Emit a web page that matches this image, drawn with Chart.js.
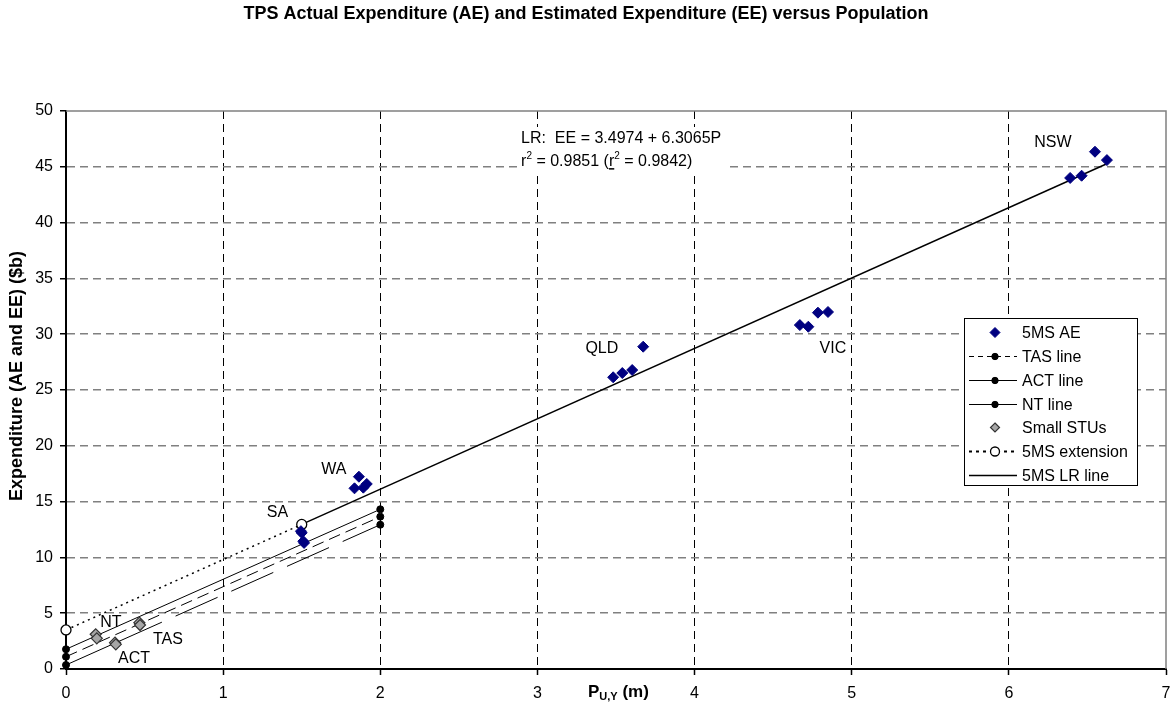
<!DOCTYPE html>
<html><head><meta charset="utf-8">
<script src="https://cdn.jsdelivr.net/npm/chart.js@4/dist/chart.umd.min.js"></script>
<style>html,body{margin:0;padding:0;background:#fff}#wrap{width:1173px;height:704px;position:relative}</style>
</head><body><div id="wrap"><canvas id="c" width="1173" height="704"></canvas></div>
<script>
// ---- data ----
const aeX = [6.39, 6.463, 6.548, 6.624, 4.67, 4.724, 4.785, 4.849, 3.482, 3.54, 3.603, 3.673, 1.836, 1.864, 1.892, 1.914, 1.495, 1.50, 1.51, 1.515];
const aeY = [44.0, 44.2, 46.35, 45.6, 30.82, 30.67, 31.93, 31.99, 26.14, 26.52, 26.79, 28.88, 16.19, 17.23, 16.25, 16.58, 12.35, 12.2, 11.45, 11.3];
const stuX = [0.189, 0.196, 0.312, 0.317, 0.467, 0.471];
const stuY = [3.11, 2.75, 2.36, 2.21, 4.15, 3.94];
const stuLineX = [0, 2];
const tasLineY = [1.10, 13.65];
const actLineY = [0.36, 12.93];
const ntLineY = [1.77, 14.31];
const extX = [0, 1.5];
const extY = [3.4974, 12.957];
const lrX = [1.5, 6.62];
const lrY = [12.957, 45.247];
const xTicks = [0, 1, 2, 3, 4, 5, 6, 7];
const yTicks = [0, 5, 10, 15, 20, 25, 30, 35, 40, 45, 50];
const stateNames = ['NSW', 'QLD', 'VIC', 'WA', 'SA', 'NT', 'TAS', 'ACT'];
const stateLabelX = [6.28, 3.41, 4.88, 1.705, 1.346, 0.286, 0.649, 0.433];
const stateLabelY = [47.2, 28.7, 28.7, 17.9, 14.0, 4.2, 2.65, 0.9];
const titleText = 'TPS Actual Expenditure (AE) and Estimated Expenditure (EE) versus Population';
const yTitleText = 'Expenditure (AE and EE) ($b)';
const eqLine1 = 'LR:  EE = 3.4974 + 6.3065P';
const r2Value = '0.9851';
const r2AdjValue = '0.9842';

// ---- chart ----
const FONT = '"Liberation Sans", Arial, Helvetica, sans-serif';
function pts(xs, ys) { return xs.map((x, i) => ({ x: x, y: ys[i] })); }

const datasets = [
  { label: '5MS AE', data: pts(aeX, aeY), showLine: false, pointStyle: 'rectRot', pointRadius: 5.5,
    pointBackgroundColor: '#000080', pointBorderColor: '#000080', pointBorderWidth: 1, order: 1, clip: false },
  { label: 'TAS line', data: pts(stuLineX, tasLineY), showLine: true, borderColor: '#000', borderWidth: 1,
    borderDash: [12, 6], pointRadius: 3.5, pointBackgroundColor: '#000', pointBorderColor: '#000', order: 5, clip: false },
  { label: 'ACT line', data: pts(stuLineX, actLineY), showLine: true, borderColor: '#000', borderWidth: 1,
    borderDash: [105, 15, 46, 15, 46, 15, 46, 15, 80], pointRadius: 3.5, pointBackgroundColor: '#000', pointBorderColor: '#000', order: 5, clip: false },
  { label: 'NT line', data: pts(stuLineX, ntLineY), showLine: true, borderColor: '#000', borderWidth: 1,
    pointRadius: 3.5, pointBackgroundColor: '#000', pointBorderColor: '#000', order: 5, clip: false },
  { label: 'Small STUs', data: pts(stuX, stuY), showLine: false, pointStyle: 'rectRot', pointRadius: 5.5,
    pointBackgroundColor: '#a6a6a6', pointBorderColor: '#333', pointBorderWidth: 1.2, order: 2, clip: false },
  { label: '5MS extension', data: pts(extX, extY), showLine: true, borderColor: '#000', borderWidth: 1.5,
    borderDash: [2, 4], pointRadius: 5, pointBackgroundColor: '#fff', pointBorderColor: '#000', pointBorderWidth: 1.3, order: 3, clip: false },
  { label: '5MS LR line', data: pts(lrX, lrY), showLine: true, borderColor: '#000', borderWidth: 1.5,
    pointRadius: 0, order: 4, clip: false }
];

function drawLegend(ctx) {
  const bx = 964.5, by = 318.5, bw = 173, bh = 167;
  ctx.save();
  ctx.fillStyle = '#fff';
  ctx.fillRect(bx, by, bw, bh);
  ctx.strokeStyle = '#000';
  ctx.lineWidth = 1;
  ctx.strokeRect(bx, by, bw, bh);
  const x0 = 969, x1 = 1017, mx = 995, tx = 1022;
  const rows = [332, 356, 380, 404, 427, 451, 475];
  ctx.font = '16px ' + FONT;
  ctx.textBaseline = 'middle';
  ctx.textAlign = 'left';
  datasets.forEach((ds, i) => {
    const y = rows[i] + 0.5;
    if (ds.showLine) {
      ctx.save();
      ctx.strokeStyle = '#000';
      ctx.lineWidth = ds.label === '5MS extension' ? 2 : (ds.label === '5MS LR line' ? 1.5 : 1);
      let dash = [];
      if (ds.label === 'TAS line') dash = [5, 4];
      if (ds.label === '5MS extension') dash = [3, 4];
      ctx.setLineDash(dash);
      ctx.beginPath(); ctx.moveTo(x0, y); ctx.lineTo(x1, y); ctx.stroke();
      ctx.restore();
    }
    if (ds.pointRadius > 0) {
      ctx.save();
      ctx.fillStyle = ds.pointBackgroundColor;
      ctx.strokeStyle = ds.pointBorderColor;
      ctx.lineWidth = ds.pointBorderWidth || 1;
      ctx.beginPath();
      if (ds.pointStyle === 'rectRot') {
        const r = ds.label === 'Small STUs' ? 4.5 : 5;
        ctx.moveTo(mx, y - r); ctx.lineTo(mx + r, y); ctx.lineTo(mx, y + r); ctx.lineTo(mx - r, y); ctx.closePath();
      } else {
        const r = ds.label === '5MS extension' ? 4.5 : 3.2;
        ctx.arc(mx, y, r, 0, Math.PI * 2);
      }
      ctx.fill(); ctx.stroke();
      ctx.restore();
    }
    ctx.fillStyle = '#000';
    ctx.fillText(ds.label, tx, y + 1);
  });
  ctx.restore();
}

const decor = {
  id: 'decor',
  beforeDatasetsDraw(chart) {
    // white box behind the equation annotation (covers grid lines)
    const ctx = chart.ctx;
    const sx = chart.scales.x, sy = chart.scales.y;
    const ex = sx.getPixelForValue(2.896);
    ctx.save();
    ctx.fillStyle = '#fff';
    ctx.fillRect(ex - 3, sy.getPixelForValue(47.67) - 10, 210, 44);
    ctx.restore();
  },
  afterDatasetsDraw(chart) {
    const ctx = chart.ctx;
    const a = chart.chartArea;
    const sx = chart.scales.x, sy = chart.scales.y;
    ctx.save();
    // top and right plot border
    ctx.strokeStyle = '#808080';
    ctx.lineWidth = 1.5;
    ctx.beginPath();
    ctx.moveTo(a.left, a.top); ctx.lineTo(a.right, a.top); ctx.lineTo(a.right, a.bottom);
    ctx.stroke();
    // state labels
    ctx.fillStyle = '#000';
    ctx.font = '16px ' + FONT;
    ctx.textAlign = 'center';
    ctx.textBaseline = 'middle';
    stateNames.forEach((n, i) => {
      ctx.fillText(n, sx.getPixelForValue(stateLabelX[i]), sy.getPixelForValue(stateLabelY[i]));
    });
    // equation annotation
    ctx.textAlign = 'left';
    ctx.textBaseline = 'alphabetic';
    const ex = sx.getPixelForValue(2.896);
    const ey1 = sy.getPixelForValue(47.67) + 6;
    const ey2 = sy.getPixelForValue(45.6) + 6;
    ctx.font = '16px ' + FONT;
    ctx.fillText(eqLine1, ex, ey1);
    let x = ex;
    const sup = (s) => { ctx.font = '10px ' + FONT; ctx.fillText(s, x, ey2 - 7); x += ctx.measureText(s).width; ctx.font = '16px ' + FONT; };
    const txt = (s) => { ctx.font = '16px ' + FONT; ctx.fillText(s, x, ey2); x += ctx.measureText(s).width; };
    txt('r'); sup('2'); txt(' = ' + r2Value + ' (');
    const ux = x; txt('r');
    ctx.fillRect(ux, ey2 + 2, x - ux, 1.5);
    sup('2'); txt(' = ' + r2AdjValue + ')');
    ctx.restore();
    drawLegend(ctx);
  },
  afterDraw(chart) {
    const ctx = chart.ctx;
    ctx.save();
    ctx.fillStyle = '#000';
    ctx.textBaseline = 'middle';
    ctx.textAlign = 'center';
    ctx.font = 'bold 18px ' + FONT;
    ctx.fillText(titleText, 586, 14);
    ctx.save();
    ctx.translate(17, 376);
    ctx.rotate(-Math.PI / 2);
    ctx.font = 'bold 18px ' + FONT;
    ctx.fillText(yTitleText, 0, 0);
    ctx.restore();
    // x axis title with subscript
    ctx.textAlign = 'left';
    ctx.textBaseline = 'alphabetic';
    let x = 588;
    const base = 697;
    ctx.font = 'bold 17px ' + FONT;
    ctx.fillText('P', x, base); x += ctx.measureText('P').width;
    ctx.font = 'bold 11px ' + FONT;
    ctx.fillText('U,Y', x, base + 3); x += ctx.measureText('U,Y').width;
    ctx.font = 'bold 17px ' + FONT;
    ctx.fillText(' (m)', x, base);
    ctx.restore();
  }
};

new Chart(document.getElementById('c'), {
  type: 'scatter',
  data: { datasets: datasets },
  options: {
    responsive: false,
    animation: false,
    devicePixelRatio: 1,
    events: [],
    layout: { autoPadding: false, padding: { top: 111, right: 7, left: 0, bottom: 0 } },
    plugins: { legend: { display: false }, title: { display: false }, tooltip: { enabled: false } },
    scales: {
      x: {
        type: 'linear', min: 0, max: 7,
        afterFit: s => { s.height = 35; s.paddingLeft = 0; s.paddingRight = 0; },
        afterBuildTicks: s => { s.ticks = xTicks.map(v => ({ value: v })); },
        ticks: { color: '#000', font: { size: 16, family: FONT }, padding: 9, maxRotation: 0 },
        grid: {
          color: c => (c.tick && (c.tick.value === 0 || c.tick.value === 7)) ? 'rgba(0,0,0,0)' : '#000',
          lineWidth: 1, tickColor: '#000', tickLength: 6, tickWidth: 1.5
        },
        border: { display: true, color: '#000', width: 2, dash: [8, 5] }
      },
      y: {
        type: 'linear', min: 0, max: 50,
        afterFit: s => { s.width = 66; s.paddingTop = 0; s.paddingBottom = 0; },
        afterBuildTicks: s => { s.ticks = yTicks.map(v => ({ value: v })); },
        ticks: { color: '#000', font: { size: 16, family: FONT }, padding: 7 },
        grid: {
          color: c => (c.tick && (c.tick.value === 0 || c.tick.value === 50)) ? 'rgba(0,0,0,0)' : '#808080',
          lineWidth: 1.5, tickColor: '#000', tickLength: 6, tickWidth: 1.5
        },
        border: { display: true, color: '#000', width: 2, dash: [8, 5] }
      }
    }
  },
  plugins: [decor]
});
</script>
</body></html>
